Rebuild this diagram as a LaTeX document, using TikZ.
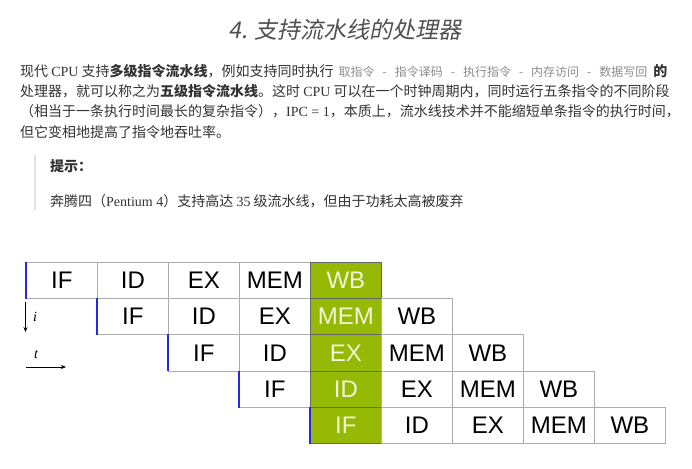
\documentclass[tikz,border=0pt]{standalone}
\usepackage{fontspec}
\setmainfont{Liberation Serif}
\newfontfamily\cjk{Noto Sans CJK SC}
\newfontfamily\cjkit{Noto Sans CJK SC}[FakeSlant=0.2]
\newfontfamily\cellfont{Liberation Sans}
\usetikzlibrary{arrows.meta,positioning}
\definecolor{txtgray}{RGB}{51,51,51}
\definecolor{stagegray}{RGB}{140,140,140}
\definecolor{titlegray}{RGB}{80,80,80}
\definecolor{rulegray}{RGB}{225,225,225}
\definecolor{pipegreen}{RGB}{150,185,5}
\definecolor{pipetext}{RGB}{240,246,215}
\definecolor{leadblue}{RGB}{40,40,225}
\newcommand{\stg}[1]{{\color{stagegray}\fontsize{12}{12}\selectfont #1}}
\newcommand{\sep}{\hspace{8pt}-\hspace{8pt}}
\newcommand{\lat}[1]{{\rmfamily #1}}

\begin{document}
\begin{tikzpicture}[x=1pt, y=-1pt,
    line/.style={anchor=west, inner sep=0pt, text=txtgray,
      font=\cjk\fontsize{14}{14}\selectfont},
    cell/.style={draw=gray!65, line width=0.7pt, minimum width=71pt,
      minimum height=36.2pt, inner sep=0pt, anchor=north west,
      font=\cellfont\fontsize{24}{24}\selectfont},
    hot/.style={fill=pipegreen, draw=black!60, text=pipetext},
    lead/.style={leadblue, line width=1.6pt},
    axis/.style={-{Stealth[length=5pt,width=4pt]}, line width=0.7pt}]
  \fill[white] (0,0) rectangle (692,468);
  \useasboundingbox (0,0) rectangle (692,468);

  % title and text
  \node[text=titlegray, font=\cjkit\fontsize{23}{23}\selectfont] (title)
    at (345,30) {4. 支持流水线的处理器};
  \node[line] (p1) at (20,71) {现代 \lat{CPU} 支持\textbf{多级指令流水线}，例如支持同时执行\hspace{5pt}%
    \stg{取指令\sep 指令译码\sep 执行指令\sep 内存访问\sep 数据写回}\hspace{6pt}\textbf{的}};
  \node[line] (p2) at (20,91) {处理器，就可以称之为\textbf{五级指令流水线}。这时 \lat{CPU} 可以在一个时钟周期内，同时运行五条指令的不同阶段};
  \node[line] (p3) at (20,111) {（相当于一条执行时间最长的复杂指令），\lat{IPC = 1}，本质上，流水线技术并不能缩短单条指令的执行时间，};
  \node[line] (p4) at (20,132) {但它变相地提高了指令地吞吐率。};
  \draw[rulegray, line width=1.2pt] (35,155) -- (35,210);
  \node[line] (tip) at (50,166) {\textbf{提示：}};
  \node[line] (note) at (50,201) {奔腾四（\lat{Pentium 4}）支持高达 \lat{35} 级流水线，但由于功耗太高被废弃};

  % pipeline
  \foreach \r in {0,...,4}{
    \foreach \s [count=\k from 0] in {IF,ID,EX,MEM,WB}{
      \pgfmathtruncatemacro{\col}{\r+\k}
      \ifnum\col=4
        \node[cell, hot] (c\r\k) at ({26+71*\col},{262+36.2*\r}) {\s};
      \else
        \node[cell] (c\r\k) at ({26+71*\col},{262+36.2*\r}) {\s};
      \fi
    }
    \draw[lead] (c\r0.north west) -- (c\r0.south west);
  }

  \coordinate (itop) at (25.5,302);
  \coordinate (ibot) at (25.5,332);
  \draw[axis] (itop) -- (ibot);
  \node[font=\itshape\fontsize{14}{14}\selectfont] (ilab) at (35,317) {i};
  \coordinate (tleft) at (26,367);
  \coordinate (tright) at (66,367);
  \draw[axis] (tleft) -- (tright);
  \node[font=\itshape\fontsize{14}{14}\selectfont] (tlab) at (36,355) {t};
\end{tikzpicture}
\end{document}
